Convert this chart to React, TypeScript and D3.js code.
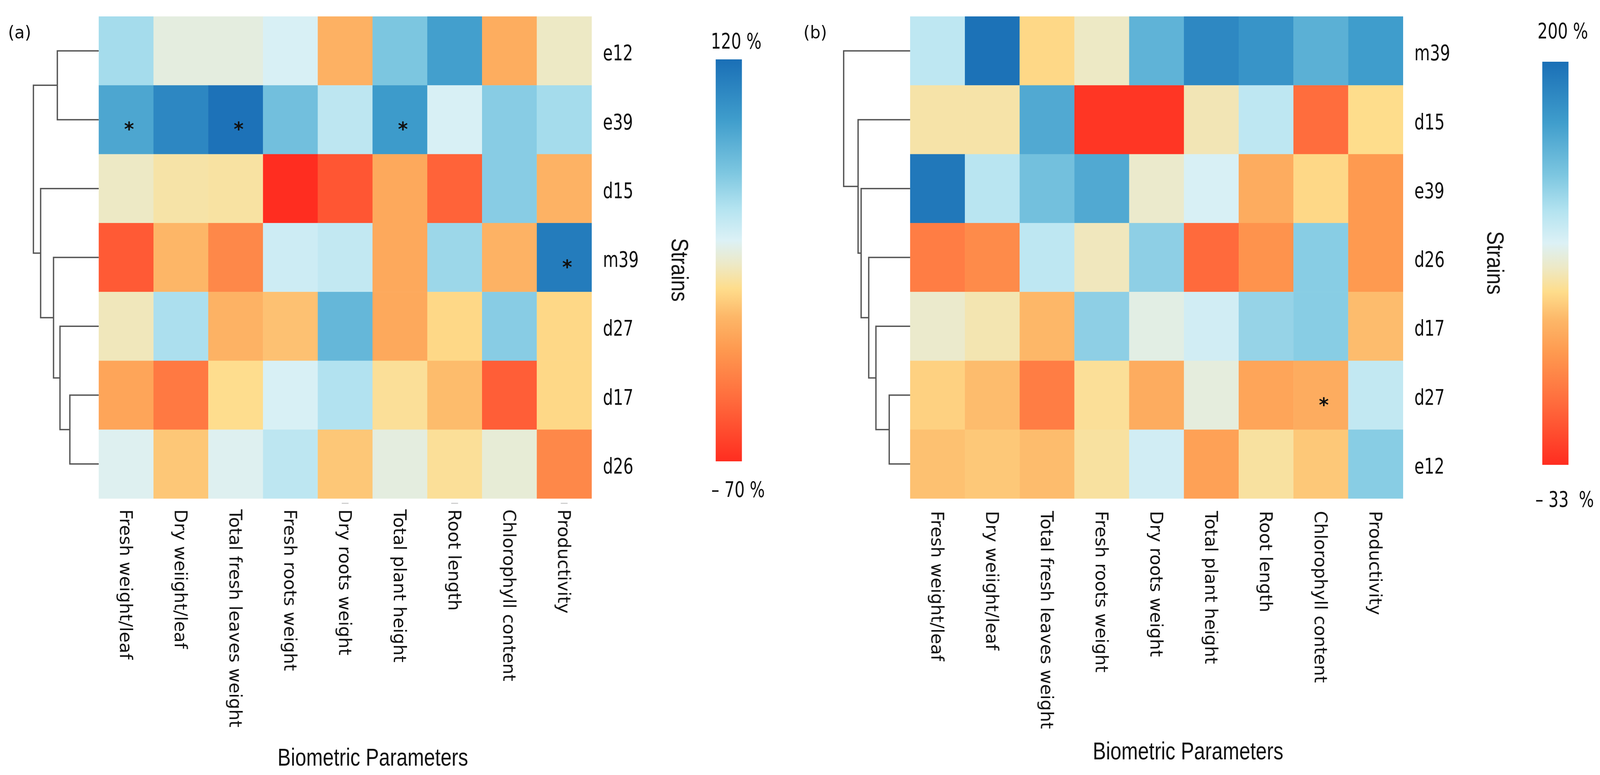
import React, { useEffect } from 'react'
import * as d3 from 'd3'

// ---- data ----
const params = [
  'Fresh weight/leaf',
  'Dry weiight/leaf',
  'Total fresh leaves weight',
  'Fresh roots weight',
  'Dry roots weight',
  'Total plant height',
  'Root length',
  'Chlorophyll content',
  'Productivity',
]

// panel (a)
const strainsA = ['e12', 'e39', 'd15', 'm39', 'd27', 'd17', 'd26']
const valuesA = [
  [54, 29, 29, 36, -5, 67, 90, -7, 23],
  [86, 105, 118, 71, 46, 93, 36, 63, 54],
  [23, 17, 16, -70, -51, -9, -45, 63, -4],
  [-49, -2, -26, 40, 44, -9, 57, -4, 112],
  [21, 52, -4, 2, 76, -9, 10, 63, 10],
  [-11, -34, 12, 36, 50, 14, 0, -47, 10],
  [33, 4, 33, 46, 4, 29, 14, 27, -26],
]
const starsA: [string, number][] = [['e39', 0], ['e39', 2], ['e39', 5], ['m39', 8]]
// merges: child, child, height
const linkA: [string, string, number][] = [
  ['e12', 'e39', 1.09],
  ['d17', 'd26', 0.76],
  ['d27', 'n1', 1.02],
  ['m39', 'n2', 1.19],
  ['d15', 'n3', 1.53],
  ['n0', 'n4', 1.72],
]
const rangeA = [-70, 120]
const cbarLabelsA = ['120 %', '– 70 %']

// panel (b)
const strainsB = ['m39', 'd15', 'e39', 'd26', 'd17', 'd27', 'e12']
const valuesB = [
  [109, 198, 65, 81, 149, 181, 172, 151, 165],
  [74, 74, 156, -28, -28, 77, 109, 4, 67],
  [193, 111, 139, 156, 83, 97, 44, 65, 32],
  [14, 23, 109, 79, 128, 2, 28, 130, 32],
  [83, 76, 51, 128, 90, 100, 125, 130, 53],
  [62, 53, 14, 70, 44, 88, 39, 44, 107],
  [55, 58, 53, 72, 100, 37, 72, 58, 130],
]
const starsB: [string, number][] = [['d27', 7]]
const linkB: [string, string, number][] = [
  ['d27', 'e12', 0.55],
  ['d17', 'n0', 0.9],
  ['d26', 'n1', 1.09],
  ['e39', 'n2', 1.29],
  ['d15', 'n3', 1.37],
  ['m39', 'n4', 1.75],
]
const rangeB = [-33, 200]
const cbarLabelsB = ['200 %', '– 33  %']

// colour ramp: 0 = minimum, 1 = maximum
const rampStops = [0, 0.15, 0.28, 0.36, 0.43, 0.49, 0.55, 0.63, 0.72, 0.85, 1]
const rampColors = [
  '#ff2d20', '#ff6a3c', '#fe9a50', '#fdb768', '#fedd8c', '#ede9c6',
  '#dcf1f6', '#b3e3f0', '#7cc6e0', '#3f9dcc', '#1a6fb6',
]

const ROW_FONT = 'DejaVu Sans, Verdana, sans-serif'
const TITLE_FONT = 'Liberation Sans, Arial, sans-serif'

interface PanelProps {
  id: string
  tag: string
  left: number
  strains: string[]
  values: number[][]
  stars: [string, number][]
  links: [string, string, number][]
  range: number[]
  cbarLabels: string[]
  cbarX: number
  cbarTop: number
  cbarBottom: number
  topLabelY: number
  bottomLabelY: number
  strainsPos: [number, number]
  xTitle: [number, number]
  colLabelY: number
  tagX: number
  ticks?: number[]
}

function Panel(p: PanelProps) {
  const top = 42
  const bottom = 1276
  const width = 1298

  const x = d3.scaleBand<string>().domain(params).range([p.left, p.left + width]).padding(0)
  const y = d3.scaleBand<string>().domain(p.strains).range([top, bottom]).padding(0)

  const [lo, hi] = p.range
  const color = d3
    .scaleLinear<string>()
    .domain(rampStops.map((t) => lo + t * (hi - lo)))
    .range(rampColors)
    .interpolate(d3.interpolateRgb)
    .clamp(true)

  // dendrogram
  const h = d3.scaleLinear().domain([0, 1]).range([p.left, p.left - 100])
  const pos: Record<string, { x: number; y: number }> = {}
  p.strains.forEach((s) => {
    pos[s] = { x: p.left, y: (y(s) as number) + y.bandwidth() / 2 }
  })
  const segs = p.links.map(([a, b, ht], i) => {
    const pa = pos[a]
    const pb = pos[b]
    const xh = h(ht)
    pos['n' + i] = { x: xh, y: (pa.y + pb.y) / 2 }
    return `M${pa.x},${pa.y}H${xh}V${pb.y}H${pb.x}`
  })

  const cb = d3.scaleLinear().domain([lo, hi]).range([p.cbarBottom, p.cbarTop])

  return (
    <g>
      <defs>
        <linearGradient id={'grad' + p.id} x1="0" y1="1" x2="0" y2="0">
          {rampStops.map((t, i) => (
            <stop key={i} offset={t} stopColor={rampColors[i]} />
          ))}
        </linearGradient>
      </defs>

      {/* cells */}
      {p.values.map((row, ri) =>
        row.map((v, ci) => (
          <rect
            key={ri + '-' + ci}
            x={x(params[ci])}
            y={y(p.strains[ri])}
            width={x.bandwidth() + 0.5}
            height={y.bandwidth() + 0.5}
            fill={color(v)}
          />
        )),
      )}

      {/* significance marks */}
      {p.stars.map(([s, ci], i) => (
        <text
          key={i}
          x={(x(params[ci]) as number) + x.bandwidth() / 2 + 8}
          y={(y(s) as number) + y.bandwidth() / 2 + 42}
          textAnchor="middle"
          fontFamily={ROW_FONT}
          fontWeight="bold"
          fontSize={50}
          fill="#111"
        >
          *
        </text>
      ))}

      {/* dendrogram */}
      {segs.map((d, i) => (
        <path key={i} d={d} fill="none" stroke="#555" strokeWidth={3.5} />
      ))}

      {/* row labels */}
      {p.strains.map((s) => (
        <text
          key={s}
          transform={`translate(${p.left + width + 30},${(y(s) as number) + y.bandwidth() / 2 + 4}) scale(0.75,1)`}
          dy="0.36em"
          fontFamily={ROW_FONT}
          fontSize={56}
          fill="#111"
        >
          {s}
        </text>
      ))}

      {/* column labels */}
      {params.map((c) => (
        <text
          key={c}
          transform={`translate(${(x(c) as number) + x.bandwidth() / 2},${p.colLabelY}) rotate(90)`}
          dy="0.36em"
          fontFamily={ROW_FONT}
          fontSize={45}
          fill="#111"
        >
          {c}
        </text>
      ))}

      {/* leftover tick marks */}
      {(p.ticks || []).map((ci) => (
        <rect
          key={ci}
          x={(x(params[ci]) as number) + x.bandwidth() / 2 - 9}
          y={1287}
          width={18}
          height={3}
          fill="#d0d0d0"
        />
      ))}

      {/* axis titles */}
      <text
        transform={`translate(${p.strainsPos[0]},${p.strainsPos[1]}) rotate(90) scale(0.9,1.08)`}
        dy="0.36em"
        textAnchor="middle"
        fontFamily={TITLE_FONT}
        fontSize={58}
        fill="#111"
      >
        Strains
      </text>
      <text
        transform={`translate(${p.xTitle[0]},${p.xTitle[1]}) scale(0.9,1.08)`}
        textAnchor="middle"
        fontFamily={TITLE_FONT}
        fontSize={58}
        fill="#111"
      >
        Biometric Parameters
      </text>

      {/* colour bar */}
      <rect
        x={p.cbarX}
        y={cb(hi)}
        width={69}
        height={cb(lo) - cb(hi)}
        fill={`url(#grad${p.id})`}
      />
      <text
        transform={`translate(${p.cbarX + 54},${p.topLabelY}) scale(0.75,1)`}
        textAnchor="middle"
        fontFamily={ROW_FONT}
        fontSize={56}
        fill="#111"
        style={{ whiteSpace: 'pre' }}
      >
        {p.cbarLabels[0]}
      </text>
      <text
        transform={`translate(${p.cbarX + 59},${p.bottomLabelY}) scale(0.75,1)`}
        textAnchor="middle"
        fontFamily={ROW_FONT}
        fontSize={56}
        fill="#111"
        style={{ whiteSpace: 'pre' }}
      >
        {p.cbarLabels[1]}
      </text>

      {/* panel tag */}
      <text x={p.tagX} y={98} fontFamily={ROW_FONT} fontSize={44} fill="#111">
        {p.tag}
      </text>
    </g>
  )
}

export default function App() {
  useEffect(() => {
    document.body.style.margin = '0'
    document.body.style.overflow = 'hidden'
  }, [])

  return (
    <svg
      viewBox="0 0 4214 1984"
      preserveAspectRatio="none"
      style={{ position: 'fixed', left: 0, top: 0, width: '100vw', height: '100vh', display: 'block' }}
    >
      <rect width={4214} height={1984} fill="#fff" />
      <Panel
        id="a"
        tag="(a)"
        left={260}
        strains={strainsA}
        values={valuesA}
        stars={starsA}
        links={linkA}
        range={rangeA}
        cbarLabels={cbarLabelsA}
        cbarX={1885}
        cbarTop={152}
        cbarBottom={1181}
        topLabelY={124}
        bottomLabelY={1272}
        strainsPos={[1792, 691]}
        xTitle={[982, 1960]}
        colLabelY={1304}
        tagX={21}
        ticks={[4, 6, 8]}
      />
      <Panel
        id="b"
        tag="(b)"
        left={2397}
        strains={strainsB}
        values={valuesB}
        stars={starsB}
        links={linkB}
        range={rangeB}
        cbarLabels={cbarLabelsB}
        cbarX={4062}
        cbarTop={158}
        cbarBottom={1190}
        topLabelY={98}
        bottomLabelY={1297}
        strainsPos={[3940, 673]}
        xTitle={[3129, 1944]}
        colLabelY={1308}
        tagX={2116}
      />
    </svg>
  )
}
